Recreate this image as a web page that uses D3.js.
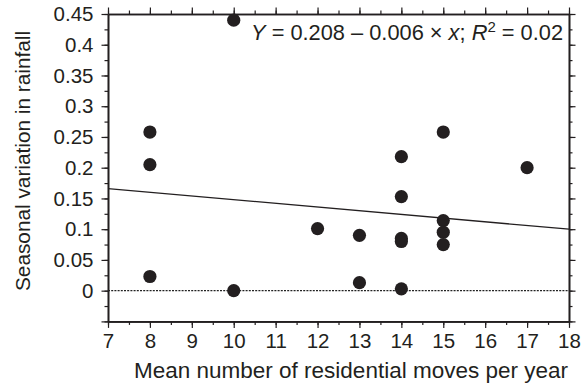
<!DOCTYPE html>
<html>
<head>
<meta charset="utf-8">
<script src="https://cdn.jsdelivr.net/npm/d3@7"></script>
<style>
  body { margin: 0; background: #fff; }
  svg text { font-family: "Liberation Sans", Arial, sans-serif; fill: #231f20; }
  .axis path, .axis line { stroke: #231f20; }
</style>
</head>
<body>
<svg id="chart" width="581" height="386"></svg>
<script>
// data
const movesPerYear = [8, 8, 8, 10, 10, 12, 13, 13, 14, 14, 14, 14, 14, 15, 15, 15, 15, 17];
const seasonalVariation = [0.258, 0.205, 0.023, 0.44, 0.0, 0.101, 0.09, 0.013, 0.218, 0.153, 0.085, 0.08, 0.003, 0.258, 0.114, 0.095, 0.075, 0.2];
const xTicks = [7, 8, 9, 10, 11, 12, 13, 14, 15, 16, 17, 18];
const yTicks = [0, 0.05, 0.1, 0.15, 0.2, 0.25, 0.3, 0.35, 0.4, 0.45];
const fitIntercept = 0.208;
const fitSlope = -0.006;

const svg = d3.select('svg#chart');
const margin = {top: 14, right: 12, bottom: 64.6, left: 108};
const width = +svg.attr('width');
const height = +svg.attr('height');

const x = d3.scaleLinear().domain([7, 18]).range([margin.left, width - margin.right]);
const y = d3.scaleLinear().domain([-0.05, 0.45]).range([height - margin.bottom, margin.top]);

const xMinor = d3.range(7, 18.01, 0.5);
const yMinor = d3.range(-0.05, 0.4501, 0.025);
const fmt = d => (d === 0 ? '0' : d3.format('.2~f')(d));

function styleAxis(g) {
  g.selectAll('path').attr('stroke-width', 1.6);
  g.selectAll('line').attr('stroke-width', 1.2);
}

// minor ticks on all sides
svg.append('g').attr('class', 'axis')
  .attr('transform', `translate(0,${y.range()[0]})`)
  .call(d3.axisBottom(x).tickValues(xMinor).tickSize(3.5).tickSizeOuter(0).tickFormat(''))
  .call(styleAxis);
svg.append('g').attr('class', 'axis')
  .attr('transform', `translate(0,${y.range()[1]})`)
  .call(d3.axisTop(x).tickValues(xMinor).tickSize(3.5).tickSizeOuter(0).tickFormat(''))
  .call(styleAxis);
svg.append('g').attr('class', 'axis')
  .attr('transform', `translate(${x.range()[0]},0)`)
  .call(d3.axisLeft(y).tickValues(yMinor).tickSize(3.5).tickSizeOuter(0).tickFormat(''))
  .call(styleAxis);
svg.append('g').attr('class', 'axis')
  .attr('transform', `translate(${x.range()[1]},0)`)
  .call(d3.axisRight(y).tickValues(yMinor).tickSize(3.5).tickSizeOuter(0).tickFormat(''))
  .call(styleAxis);

// major ticks
const xAxis = svg.append('g').attr('class', 'axis')
  .attr('transform', `translate(0,${y.range()[0]})`)
  .call(d3.axisBottom(x).tickValues(xTicks).tickSize(6.5).tickSizeOuter(0).tickPadding(6))
  .call(styleAxis);
xAxis.selectAll('text').attr('font-size', 20.5).attr('fill', '#231f20');

svg.append('g').attr('class', 'axis')
  .attr('transform', `translate(0,${y.range()[1]})`)
  .call(d3.axisTop(x).tickValues(xTicks).tickSize(6.5).tickSizeOuter(0).tickFormat(''))
  .call(styleAxis);

const yAxis = svg.append('g').attr('class', 'axis')
  .attr('transform', `translate(${x.range()[0]},0)`)
  .call(d3.axisLeft(y).tickValues(yTicks.concat([-0.05])).tickSize(6.5).tickSizeOuter(0).tickPadding(8)
    .tickFormat(d => (d < 0 ? '' : fmt(d))))
  .call(styleAxis);
yAxis.selectAll('text').attr('font-size', 20.5).attr('fill', '#231f20');

svg.append('g').attr('class', 'axis')
  .attr('transform', `translate(${x.range()[1]},0)`)
  .call(d3.axisRight(y).tickValues(yTicks.concat([-0.05])).tickSize(6.5).tickSizeOuter(0).tickFormat(''))
  .call(styleAxis);

// zero reference line
svg.append('line')
  .attr('x1', x(7)).attr('x2', x(18))
  .attr('y1', y(0)).attr('y2', y(0))
  .attr('stroke', '#222').attr('stroke-width', 1.3)
  .attr('stroke-dasharray', '2,1.2');

// fitted line
svg.append('line')
  .attr('x1', x(7)).attr('x2', x(18))
  .attr('y1', y(fitIntercept + fitSlope * 7))
  .attr('y2', y(fitIntercept + fitSlope * 18))
  .attr('stroke', '#231f20').attr('stroke-width', 1.3);

// points
svg.append('g').selectAll('circle')
  .data(movesPerYear.map((m, i) => [m, seasonalVariation[i]]))
  .enter().append('circle')
  .attr('cx', d => x(d[0]))
  .attr('cy', d => y(d[1]))
  .attr('r', 6.6)
  .attr('fill', '#231f20');

// equation
const eq = svg.append('text')
  .attr('x', 563).attr('y', 40)
  .attr('text-anchor', 'end')
  .attr('font-size', 21.8);
eq.append('tspan').attr('font-style', 'italic').text('Y');
eq.append('tspan').text(' = 0.208 \u2013 0.006 \u00d7 ');
eq.append('tspan').attr('font-style', 'italic').text('x');
eq.append('tspan').text('; ');
eq.append('tspan').attr('font-style', 'italic').text('R');
eq.append('tspan').attr('font-size', 15).attr('dy', -8).text('2');
eq.append('tspan').attr('dy', 8).text(' = 0.02');

// axis titles
svg.append('text')
  .attr('x', 351).attr('y', 378)
  .attr('text-anchor', 'middle')
  .attr('font-size', 22.5)
  .text('Mean number of residential moves per year');

svg.append('text')
  .attr('transform', `translate(30,${161}) rotate(-90)`)
  .attr('text-anchor', 'middle')
  .attr('font-size', 20.8)
  .text('Seasonal variation in rainfall');
</script>
</body>
</html>
